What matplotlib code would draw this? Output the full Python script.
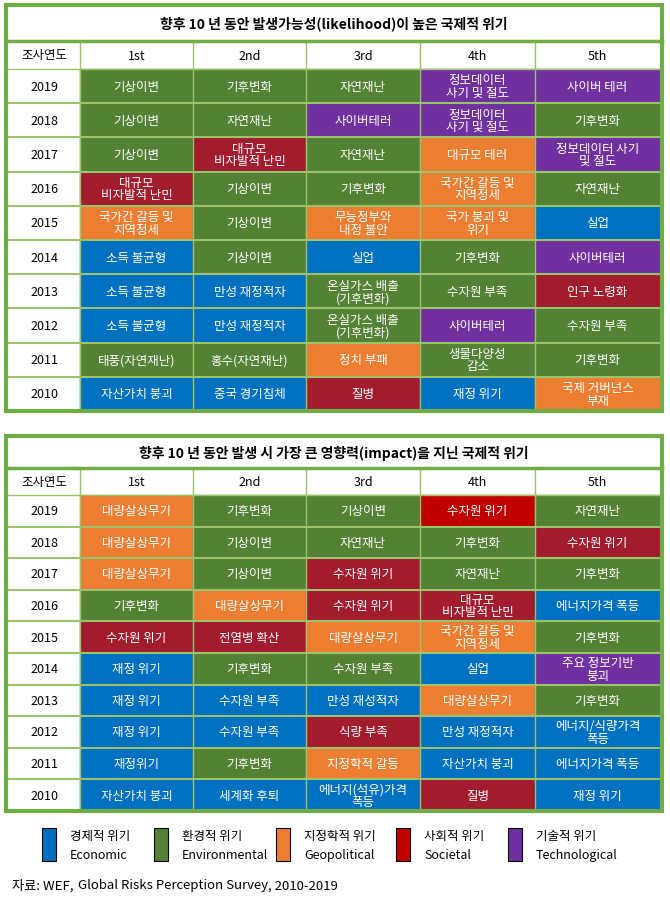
import matplotlib.pyplot as plt
from matplotlib.patches import Rectangle

plt.rcParams['font.family'] = ['Noto Sans CJK JP', 'Noto Sans CJK KR', 'DejaVu Sans']

years = ['2019', '2018', '2017', '2016', '2015', '2014', '2013', '2012', '2011', '2010']
ranks = ['1st', '2nd', '3rd', '4th', '5th']

title1 = '향후 10 년 동안 발생가능성(likelihood)이 높은 국제적 위기'
labels1 = [
    ['기상이변', '기후변화', '자연재난', '정보데이터\n사기 및 절도', '사이버 테러'],
    ['기상이변', '자연재난', '사이버테러', '정보데이터\n사기 및 절도', '기후변화'],
    ['기상이변', '대규모\n비자발적 난민', '자연재난', '대규모 테러', '정보데이터 사기\n및 절도'],
    ['대규모\n비자발적 난민', '기상이변', '기후변화', '국가간 갈등 및\n지역정세', '자연재난'],
    ['국가간 갈등 및\n지역정세', '기상이변', '무능정부와\n내정 불안', '국가 붕괴 및\n위기', '실업'],
    ['소득 불균형', '기상이변', '실업', '기후변화', '사이버테러'],
    ['소득 불균형', '만성 재정적자', '온실가스 배출\n(기후변화)', '수자원 부족', '인구 노령화'],
    ['소득 불균형', '만성 재정적자', '온실가스 배출\n(기후변화)', '사이버테러', '수자원 부족'],
    ['태풍(자연재난)', '홍수(자연재난)', '정치 부패', '생물다양성\n감소', '기후변화'],
    ['자산가치 붕괴', '중국 경기침체', '질병', '재정 위기', '국제 거버넌스\n부재'],
]
cats1 = [
    ['N', 'N', 'N', 'T', 'T'],
    ['N', 'N', 'T', 'T', 'N'],
    ['N', 'S', 'N', 'G', 'T'],
    ['S', 'N', 'N', 'G', 'N'],
    ['G', 'N', 'G', 'G', 'E'],
    ['E', 'N', 'E', 'N', 'T'],
    ['E', 'E', 'N', 'N', 'S'],
    ['E', 'E', 'N', 'T', 'N'],
    ['N', 'N', 'G', 'N', 'N'],
    ['E', 'E', 'S', 'E', 'G'],
]

title2 = '향후 10 년 동안 발생 시 가장 큰 영향력(impact)을 지닌 국제적 위기'
labels2 = [
    ['대량살상무기', '기후변화', '기상이변', '수자원 위기', '자연재난'],
    ['대량살상무기', '기상이변', '자연재난', '기후변화', '수자원 위기'],
    ['대량살상무기', '기상이변', '수자원 위기', '자연재난', '기후변화'],
    ['기후변화', '대량살상무기', '수자원 위기', '대규모\n비자발적 난민', '에너지가격 폭등'],
    ['수자원 위기', '전염병 확산', '대량살상무기', '국가간 갈등 및\n지역정세', '기후변화'],
    ['재정 위기', '기후변화', '수자원 부족', '실업', '주요 정보기반\n붕괴'],
    ['재정 위기', '수자원 부족', '만성 재성적자', '대량살상무기', '기후변화'],
    ['재정 위기', '수자원 부족', '식량 부족', '만성 재정적자', '에너지/식량가격\n폭등'],
    ['재정위기', '기후변화', '지정학적 갈등', '자산가치 붕괴', '에너지가격 폭등'],
    ['자산가치 붕괴', '세계화 후퇴', '에너지(석유)가격\n폭등', '질병', '재정 위기'],
]
cats2 = [
    ['G', 'N', 'N', 'S2', 'N'],
    ['G', 'N', 'N', 'N', 'S'],
    ['G', 'N', 'S', 'N', 'N'],
    ['N', 'G', 'S', 'S', 'E'],
    ['S', 'S', 'G', 'G', 'N'],
    ['E', 'N', 'N', 'E', 'T'],
    ['E', 'E', 'E', 'G', 'N'],
    ['E', 'E', 'S', 'E', 'E'],
    ['E', 'N', 'G', 'E', 'E'],
    ['E', 'E', 'E', 'S', 'E'],
]

legend_keys = ['E', 'N', 'G', 'S2', 'T']
legend_ko = ['경제적 위기', '환경적 위기', '지정학적 위기', '사회적 위기', '기술적 위기']
legend_en = ['Economic', 'Environmental', 'Geopolitical', 'Societal', 'Technological']

colors = {'E': '#0070C0', 'N': '#548235', 'G': '#ED7D31', 'S': '#A21C2E',
          'S2': '#C00000', 'T': '#7030A0'}
grid_c = '#9BC36B'
border_c = '#70AD47'

W, H = 670, 903
fig = plt.figure(figsize=(W / 100, H / 100), dpi=100)
ax = fig.add_axes([0, 0, 1, 1])
ax.set_xlim(0, W)
ax.set_ylim(H, 0)
ax.axis('off')

col_x = [8, 80, 193, 306, 420, 535, 660]


def draw_table(top, bottom, title_h, head_h, title, labels, cats):
    ax.add_patch(Rectangle((6, top), 656, bottom - top, fill=False,
                           ec=border_c, lw=3, zorder=5))
    ax.text(334, top + title_h / 2, title, ha='center', va='center',
            fontsize=10, fontweight='bold')
    y0 = top + title_h
    ax.plot([6, 662], [y0, y0], color=border_c, lw=2.5, zorder=4)
    ax.text((col_x[0] + col_x[1]) / 2, y0 + head_h / 2, '조사연도',
            ha='center', va='center', fontsize=9)
    for j, r in enumerate(ranks):
        ax.text((col_x[j + 1] + col_x[j + 2]) / 2, y0 + head_h / 2, r,
                ha='center', va='center', fontsize=9)
    for x in col_x[1:-1]:
        ax.plot([x, x], [y0, bottom], color=grid_c, lw=1, zorder=3)
    ys = y0 + head_h
    rh = (bottom - ys) / len(years)
    ax.plot([6, 662], [ys, ys], color=grid_c, lw=1, zorder=3)
    for i, yr in enumerate(years):
        yt = ys + i * rh
        ax.plot([6, 662], [yt + rh, yt + rh], color=grid_c, lw=1.5, zorder=3)
        ax.text((col_x[0] + col_x[1]) / 2, yt + rh / 2, yr,
                ha='center', va='center', fontsize=9)
        for j in range(5):
            x0, x1 = col_x[j + 1], col_x[j + 2]
            ax.add_patch(Rectangle((x0, yt), x1 - x0, rh,
                                   color=colors[cats[i][j]], zorder=2))
            ax.text((x0 + x1) / 2, yt + rh / 2, labels[i][j], ha='center',
                    va='center', fontsize=9, color='white',
                    linespacing=0.95, zorder=6)


draw_table(6, 412, 36, 28, title1, labels1, cats1)
draw_table(437, 812, 32, 27, title2, labels2, cats2)

lx = [42, 154, 276, 396, 508]
for k, x in enumerate(lx):
    ax.add_patch(Rectangle((x, 829), 14, 33, fc=colors[legend_keys[k]],
                           ec='black', lw=0.8))
    ax.text(x + 28, 837, legend_ko[k], ha='left', va='center', fontsize=9)
    ax.text(x + 28, 856, legend_en[k], ha='left', va='center', fontsize=9)

# source line: place pieces one after another using measured widths
fig.canvas.draw()
r = fig.canvas.get_renderer()
inv = ax.transData.inverted()
x = 12
for s, st in [('자료: WEF, ', 'normal'), ('Global Risks Perception Survey', 'italic'),
              (', 2010-2019', 'normal')]:
    t = ax.text(x, 886, s, ha='left', va='center', fontsize=9.5, style=st)
    bb = t.get_window_extent(r)
    x = inv.transform((bb.x1, 0))[0] + 1

fig.savefig('out.png', dpi=100)
